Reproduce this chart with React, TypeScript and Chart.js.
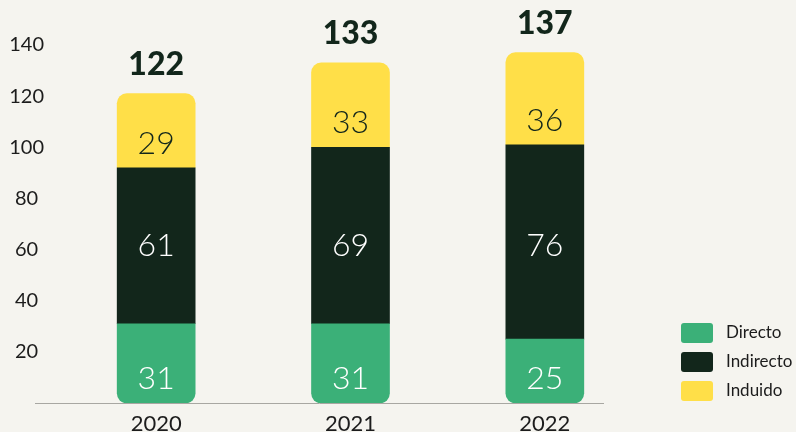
import React, { useEffect, useRef } from "react";
import { Chart, registerables } from "chart.js";

Chart.register(...registerables);

const YEARS = ["2020", "2021", "2022"];
const DIRECTO = [31, 31, 25];
const INDIRECTO = [61, 69, 76];
const INDUIDO = [29, 33, 36];
const TOTALS = [122, 133, 137];
const Y_TICKS = [20, 40, 60, 80, 100, 120, 140];
const SERIES_NAMES = ["Directo", "Indirecto", "Induido"];

const GREEN = "#3bb078";
const DARK = "#12261b";
const YELLOW = "#ffdf48";
const BG = "#f5f4ef";
const TEXT = "#1c1c1c";
const FONT = "Lato, 'Open Sans', sans-serif";
const INDIRECTO_LABEL_LEVEL = 61.5;

const overlayPlugin = {
  id: "overlay",
  afterDatasetsDraw(chart: any) {
    const ctx = chart.ctx;
    const area = chart.chartArea;
    const yScale = chart.scales.y;
    ctx.save();
    // baseline axis line
    ctx.strokeStyle = "#a8a7a2";
    ctx.lineWidth = 1;
    ctx.beginPath();
    ctx.moveTo(area.left - 24, Math.round(area.bottom) + 0.5);
    ctx.lineTo(area.right - 38, Math.round(area.bottom) + 0.5);
    ctx.stroke();

    ctx.textAlign = "center";
    ctx.textBaseline = "middle";
    // segment labels
    chart.data.datasets.forEach((ds: any, di: number) => {
      const meta = chart.getDatasetMeta(di);
      meta.data.forEach((bar: any, i: number) => {
        const v = ds.data[i];
        let y: number;
        if (di === 1) y = yScale.getPixelForValue(INDIRECTO_LABEL_LEVEL);
        else y = bar.base - 24.5;
        ctx.fillStyle = di === 2 ? DARK : "#ffffff";
        ctx.font = `300 32px ${FONT}`;
        ctx.fillText(String(v), bar.x, y);
      });
    });
    // totals
    const topMeta = chart.getDatasetMeta(chart.data.datasets.length - 1);
    topMeta.data.forEach((bar: any, i: number) => {
      ctx.fillStyle = DARK;
      ctx.font = `900 32px ${FONT}`;
      ctx.fillText(String(TOTALS[i]), bar.x, bar.y - 29);
    });

    // legend
    const lx = area.right + 39;
    const rowGap = 29;
    const n = chart.data.datasets.length;
    chart.data.datasets.forEach((ds: any, di: number) => {
      const cy = area.bottom - 12 - (n - 1 - di) * rowGap;
      ctx.fillStyle = ds.backgroundColor;
      ctx.beginPath();
      (ctx as any).roundRect(lx, cy - 10, 32, 20, 3);
      ctx.fill();
      ctx.fillStyle = TEXT;
      ctx.textAlign = "left";
      ctx.font = `400 17px ${FONT}`;
      ctx.fillText(ds.label, lx + 45, cy);
    });
    ctx.restore();
  },
};

export default function App() {
  const canvasRef = useRef<HTMLCanvasElement | null>(null);

  useEffect(() => {
    document.body.style.background = BG;
    const canvas = canvasRef.current;
    if (!canvas) return;
    const chart = new Chart(canvas, {
      type: "bar",
      data: {
        labels: YEARS,
        datasets: [
          {
            label: SERIES_NAMES[0],
            data: DIRECTO,
            backgroundColor: GREEN,
            borderWidth: 0,
            borderSkipped: false,
            borderRadius: { topLeft: 0, topRight: 0, bottomLeft: 10, bottomRight: 10 },
          },
          {
            label: SERIES_NAMES[1],
            data: INDIRECTO,
            backgroundColor: DARK,
            borderWidth: 0,
            borderSkipped: false,
            borderRadius: 0,
          },
          {
            label: SERIES_NAMES[2],
            data: INDUIDO,
            backgroundColor: YELLOW,
            borderWidth: 0,
            borderSkipped: false,
            borderRadius: { topLeft: 10, topRight: 10, bottomLeft: 0, bottomRight: 0 },
          },
        ],
      },
      options: {
        animation: false,
        responsive: true,
        maintainAspectRatio: false,
        layout: { padding: { top: 45, right: 154, left: 0, bottom: 0 } },
        plugins: {
          legend: { display: false },
          tooltip: { enabled: false },
        },
        datasets: { bar: { barThickness: 78 } } as any,
        scales: {
          x: {
            stacked: true,
            grid: { display: false, drawTicks: false },
            border: { display: false },
            ticks: {
              color: TEXT,
              font: { family: FONT, size: 22, weight: "400" as any },
              padding: 8,
            },
            afterFit: (scale: any) => {
              scale.height = 29;
            },
          },
          y: {
            stacked: true,
            min: 0,
            max: 140,
            grid: { display: false, drawTicks: false },
            border: { display: false },
            afterBuildTicks: (scale: any) => {
              scale.ticks = Y_TICKS.map((v) => ({ value: v }));
            },
            ticks: {
              color: TEXT,
              font: { family: FONT, size: 20, weight: "400" as any },
              padding: 15,
              crossAlign: "center",
            },
            afterFit: (scale: any) => {
              scale.width = 59;
            },
          },
        },
      },
      plugins: [overlayPlugin],
    });
    return () => chart.destroy();
  }, []);

  return (
    <div
      style={{
        position: "fixed",
        left: 0,
        top: 0,
        width: 796,
        height: 432,
        background: BG,
      }}
    >
      <canvas ref={canvasRef} style={{ display: "block" }} />
    </div>
  );
}
